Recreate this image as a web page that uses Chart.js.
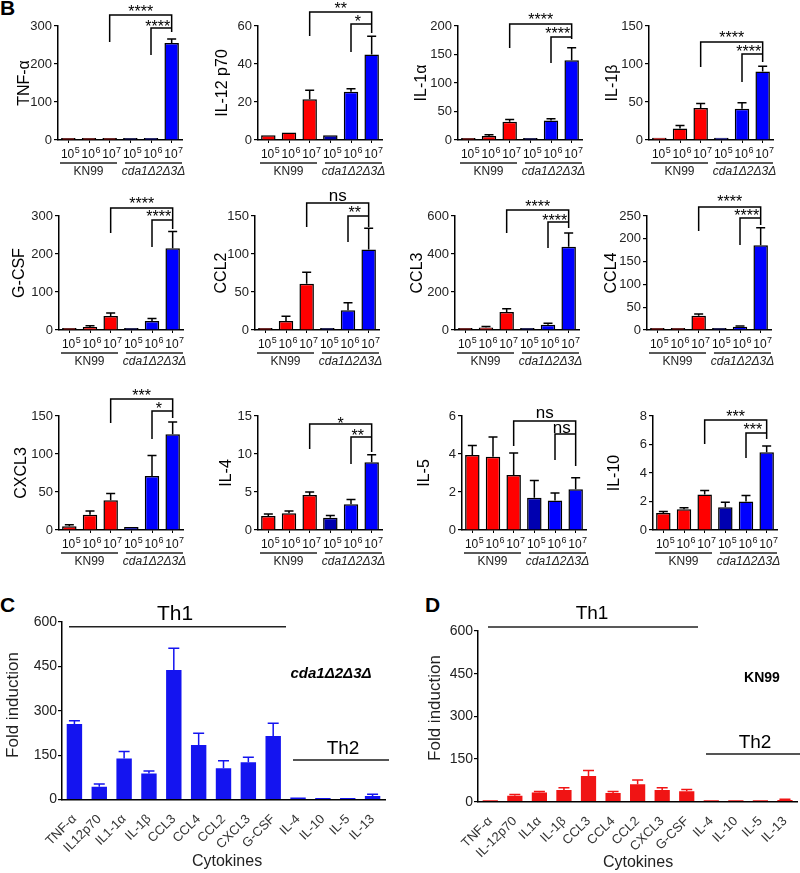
<!DOCTYPE html>
<html><head><meta charset="utf-8">
<script src="https://cdn.jsdelivr.net/npm/chart.js@4.4.0/dist/chart.umd.min.js"></script>
<style>
html,body{margin:0;padding:0;background:#fff;width:800px;height:873px;overflow:hidden;position:relative;font-family:'Liberation Sans',Arial,sans-serif}
canvas{position:absolute}
.lbl{position:absolute;font-weight:bold;font-size:21px;line-height:21px;color:#000}
</style></head><body>
<div class="lbl" style="left:0;top:-3px">B</div>
<div class="lbl" style="left:0;top:594px">C</div>
<div class="lbl" style="left:425px;top:594px">D</div>
<script>
Chart.defaults.font.family = "'Liberation Sans', Arial, sans-serif";
Chart.defaults.color = '#222';
Chart.defaults.animation = false;

// ---------- data ----------
const doseLabels = ['10⁵','10⁶','10⁷','10⁵','10⁶','10⁷'];
const strainLabels = ['KN99','cda1Δ2Δ3Δ'];

const tnfMean  = [1, 1, 3, 1, 2, 255];
const tnfSem   = [0.5, 0.5, 1, 0.5, 0.5, 11];
const il12Mean = [2.5, 4.0, 21.5, 2.5, 25.4, 45];
const il12Sem  = [0.3, 0.3, 4.7, 0.4, 1.6, 9.6];
const il1aMean = [1.5, 7, 32, 3, 34, 140];
const il1aSem  = [0.5, 2, 4, 0.5, 3.5, 22];
const il1bMean = [3, 15, 42, 3, 41, 90];
const il1bSem  = [1, 4, 6, 1, 8, 7];
const gcsfMean = [2, 8, 37, 2, 24, 215];
const gcsfSem  = [0.5, 3, 8, 0.5, 6, 44];
const ccl2Mean = [1.5, 12, 61, 1, 26, 106];
const ccl2Sem  = [0.5, 6, 15, 0.3, 10, 28];
const ccl3Mean = [1, 13, 95, 3, 28, 438];
const ccl3Sem  = [0.5, 5, 17, 1, 8, 72];
const ccl4Mean = [1, 2, 31, 1, 7, 186];
const ccl4Sem  = [0.3, 0.8, 4, 0.3, 2, 38];
const cxcl3Mean = [5, 20, 39, 4, 71, 126];
const cxcl3Sem  = [2, 5, 9, 1, 27, 16];
const il4Mean  = [1.85, 2.2, 4.6, 1.6, 3.4, 8.9];
const il4Sem   = [0.25, 0.3, 0.4, 0.3, 0.6, 1.0];
const il5Mean  = [3.95, 3.85, 2.9, 1.7, 1.55, 2.15];
const il5Sem   = [0.5, 1.05, 1.15, 0.9, 0.4, 0.6];
const il10Mean = [1.2, 1.45, 2.5, 1.6, 2.0, 5.45];
const il10Sem  = [0.1, 0.12, 0.28, 0.35, 0.42, 0.45];

const foldCatsC = ['TNF-α','IL12p70','IL1-1α','IL-1β','CCL3','CCL4','CCL2','CXCL3','G-CSF','IL-4','IL-10','IL-5','IL-13'];
const foldMeanC = [255, 43, 139, 88, 438, 184, 106, 126, 215, 7, 4, 2, 12];
const foldSemC  = [11, 9, 23, 8, 73, 40, 25, 17, 43, 2, 1.5, 1, 5.5];
const foldCatsD = ['TNF-α','IL-12p70','IL1α','IL-1β','CCL3','CCL4','CCL2','CXCL3','G-CSF','IL-4','IL-10','IL-5','IL-13'];
const foldMeanD = [4, 21, 32, 41, 90, 31, 61, 41, 37, 3, 1, 2, 6];
const foldSemD  = [1, 4, 4, 8, 20, 5, 15, 8, 6, 1, 0.5, 0.8, 3];

// ---------- small panel layout ----------
const rowTop = [26, 216, 416];
const colLeft = [0, 200, 400, 600];
const SW = 200, SH = 222, CT = 50, CH = 114, CW = 124;
const barColors = ['#ff0000','#ff0000','#ff0000','#0000b0','#0000ff','#0000ff'];
const FONT = "'Liberation Sans', Arial, sans-serif";

const panels = [
 {name:'TNF-α', mean:tnfMean, sem:tnfSem, max:300, step:100, col:0, row:0, axisX:58, titleX:25, sig:['****','****'], br:{o:-11,ol:16,r:6,i:2,il:29,to:-18,ti:-3}},
 {name:'IL-12 p70', mean:il12Mean, sem:il12Sem, max:60, step:20, col:1, row:0, axisX:258, titleX:223, sig:['**','*'], br:{o:-14,ol:10,r:7,i:-2,il:26,to:-21,ti:-8}},
 {name:'IL-1α', mean:il1aMean, sem:il1aSem, max:200, step:50, col:2, row:0, axisX:458, titleX:422, sig:['****','****'], br:{o:-2,ol:22,r:13,i:11,il:37,to:-10,ti:4}},
 {name:'IL-1β', mean:il1bMean, sem:il1bSem, max:150, step:50, col:3, row:0, axisX:649, titleX:613, sig:['****','****'], br:{o:16,ol:41,r:36,i:28,il:56,to:8,ti:22}},
 {name:'G-CSF', mean:gcsfMean, sem:gcsfSem, max:300, step:100, col:0, row:1, axisX:59, titleX:20, sig:['****','****'], br:{o:-8,ol:17,r:13,i:4,il:31,to:-16,ti:-3}},
 {name:'CCL2', mean:ccl2Mean, sem:ccl2Sem, max:150, step:50, col:1, row:1, axisX:255, titleX:222, sig:['ns','**'], br:{o:-13,ol:11,r:11,i:0,il:26,to:-20,ti:-7}},
 {name:'CCL3', mean:ccl3Mean, sem:ccl3Sem, max:600, step:200, col:2, row:1, axisX:455, titleX:418, sig:['****','****'], br:{o:-6,ol:17,r:12,i:6,il:32,to:-13,ti:1}},
 {name:'CCL4', mean:ccl4Mean, sem:ccl4Sem, max:250, step:50, col:3, row:1, axisX:647, titleX:612, sig:['****','****'], br:{o:-9,ol:15,r:9,i:2,il:29,to:-18,ti:-4}},
 {name:'CXCL3', mean:cxcl3Mean, sem:cxcl3Sem, max:150, step:50, col:0, row:2, axisX:59, titleX:22, sig:['***','*'], br:{o:-17,ol:7,r:2,i:-5,il:23,to:-24,ti:-11}},
 {name:'IL-4', mean:il4Mean, sem:il4Sem, max:15, step:5, col:1, row:2, axisX:258, titleX:227, sig:['*','**'], br:{o:8,ol:33,r:36,i:21,il:48,to:4,ti:16}},
 {name:'IL-5', mean:il5Mean, sem:il5Sem, max:6, step:2, col:2, row:2, axisX:462, titleX:425, sig:['ns','ns'], br:{o:5,ol:30,r:50,i:18,il:44,to:-3,ti:12}},
 {name:'IL-10', mean:il10Mean, sem:il10Sem, max:8, step:2, col:3, row:2, axisX:653, titleX:615, sig:['***','***'], br:{o:4,ol:28,r:23,i:17,il:42,to:-3,ti:10}}
];

const SUP = '⁰¹²³⁴⁵⁶⁷⁸⁹';
function splitPow(lbl) {
  let base = '', exp = '';
  for (const ch of lbl) {
    const k = SUP.indexOf(ch);
    if (k >= 0) exp += String(k); else base += ch;
  }
  return [base, exp];
}

function drawSig(ctx, text, x, yc) {
  ctx.textAlign = 'center';
  ctx.textBaseline = 'alphabetic';
  if (text === 'ns') {
    ctx.font = '17px ' + FONT;
    ctx.fillText(text, x, yc + 4.5);
  } else {
    ctx.font = '16px ' + FONT;
    ctx.fillText(text, x, yc + 9);
  }
}

function smallDeco(p, cl) {
  return {
    id: 'smallDeco',
    afterDraw(chart) {
      const ctx = chart.ctx, ca = chart.chartArea, ys = chart.scales.y;
      const xs = chart.getDatasetMeta(0).data.map(b => b.x);
      ctx.save();
      ctx.strokeStyle = '#000'; ctx.fillStyle = '#000'; ctx.lineWidth = 1.5;
      // error bars (upper)
      p.mean.forEach((v, i) => {
        const y0 = ys.getPixelForValue(v), y1 = ys.getPixelForValue(v + p.sem[i]);
        if (y0 - y1 < 0.8) return;
        ctx.beginPath();
        ctx.moveTo(xs[i], y0); ctx.lineTo(xs[i], y1);
        ctx.moveTo(xs[i] - 4.5, y1); ctx.lineTo(xs[i] + 4.5, y1);
        ctx.stroke();
      });
      // brackets
      const b = p.br, T = ca.top;
      ctx.beginPath();
      ctx.moveTo(xs[2], T + b.ol); ctx.lineTo(xs[2], T + b.o); ctx.lineTo(xs[5], T + b.o); ctx.lineTo(xs[5], T + b.r);
      ctx.moveTo(xs[4], T + b.il); ctx.lineTo(xs[4], T + b.i); ctx.lineTo(xs[5], T + b.i);
      ctx.stroke();
      drawSig(ctx, p.sig[0], (xs[2] + xs[5]) / 2, T + b.to);
      drawSig(ctx, p.sig[1], xs[4] + 0.33 * (xs[5] - xs[4]), T + b.ti);
      // dose tick labels with superscript exponent
      ctx.fillStyle = '#111';
      ctx.textBaseline = 'alphabetic'; ctx.textAlign = 'left';
      doseLabels.forEach((lbl, i) => {
        const [base, exp] = splitPow(lbl);
        ctx.font = '12px ' + FONT;
        const wb = ctx.measureText(base).width;
        ctx.font = '9px ' + FONT;
        const we = ctx.measureText(exp).width;
        const x0 = xs[i] + 2 - (wb + we + 0.5) / 2;
        ctx.font = '12px ' + FONT;
        ctx.fillText(base, x0, ca.bottom + 18);
        ctx.font = '9px ' + FONT;
        ctx.fillText(exp, x0 + wb + 0.5, ca.bottom + 12.5);
      });
      // y title
      ctx.fillStyle = '#000';
      ctx.save();
      ctx.translate(p.titleX - cl, (ca.top + ca.bottom) / 2);
      ctx.rotate(-Math.PI / 2);
      ctx.font = '16px ' + FONT;
      ctx.textAlign = 'center'; ctx.textBaseline = 'middle';
      ctx.fillText(p.name, 0, 0);
      ctx.restore();
      // strain groups
      const w = ca.right - ca.left;
      const groups = [[0.016, 0.476], [0.54, 1.0]];
      ctx.strokeStyle = '#222'; ctx.lineWidth = 1.3;
      groups.forEach((g, k) => {
        const x1 = ca.left + g[0] * w, x2 = ca.left + g[1] * w;
        ctx.beginPath(); ctx.moveTo(x1, ca.bottom + 23); ctx.lineTo(x2, ca.bottom + 23); ctx.stroke();
        ctx.font = (k === 1 ? 'italic ' : '') + '12px ' + FONT;
        ctx.fillStyle = '#222';
        ctx.textAlign = 'center'; ctx.textBaseline = 'middle';
        ctx.fillText(strainLabels[k], (x1 + x2) / 2, ca.bottom + 31.5);
      });
      ctx.restore();
    }
  };
}

function makeSmall(p) {
  const cv = document.createElement('canvas');
  cv.width = SW; cv.height = SH;
  const cl = colLeft[p.col];
  cv.style.left = cl + 'px';
  cv.style.top = (rowTop[p.row] - CT) + 'px';
  document.body.appendChild(cv);
  const ax = p.axisX - cl;
  new Chart(cv, {
    type: 'bar',
    data: { labels: doseLabels, datasets: [{ data: p.mean, backgroundColor: barColors, borderColor: '#000', borderWidth: 1.5, barPercentage: 0.7, categoryPercentage: 1, minBarLength: 2 }] },
    options: {
      responsive: false, animation: false,
      layout: { padding: { top: CT, right: SW - ax - CW, left: 0, bottom: 0 } },
      plugins: { legend: { display: false }, tooltip: { enabled: false } },
      scales: {
        x: {
          grid: { display: true, drawOnChartArea: false, offset: false, tickLength: 3, color: '#000', lineWidth: 1 },
          border: { color: '#000', width: 1.5 },
          ticks: { display: false, maxRotation: 0, minRotation: 0, autoSkip: false },
          afterFit: s => { s.height = SH - CT - CH; }
        },
        y: {
          min: 0, max: p.max,
          ticks: { stepSize: p.step, font: { size: 13 }, color: '#222', padding: 2 },
          grid: { display: true, drawOnChartArea: false, tickLength: 4, color: '#000', lineWidth: 1.2 },
          border: { color: '#000', width: 1.5 },
          afterFit: s => { s.width = ax; }
        }
      }
    },
    plugins: [smallDeco(p, cl)]
  });
}
panels.forEach(makeSmall);

// ---------- fold induction panels ----------
const FW = 400, FH = 313, FTOP = 560;
const foldPanels = [
  {cats: foldCatsC, mean: foldMeanC, sem: foldSemC, color: '#1414f0', left: 0, ca: {l: 62, r: 385, t: 62, b: 239.5},
   strain: 'cda1Δ2Δ3Δ', strainFont: 'italic bold 15px ' + FONT, strainPos: [331, 114],
   th1: [175, 54, 21], th1Line: [66.7, 69, 286], th2: [343, 189, 19], th2Line: [200, 293, 389], yTitle: [13, 145], xTitle: [227, 302]},
  {cats: foldCatsD, mean: foldMeanD, sem: foldSemD, color: '#f01414', left: 400, ca: {l: 78, r: 400, t: 71, b: 241.7},
   strain: 'KN99', strainFont: 'bold 14px ' + FONT, strainPos: [362, 118],
   th1: [192, 54, 19], th1Line: [67, 88, 298], th2: [355, 183, 19], th2Line: [194, 306, 400], yTitle: [35, 148], xTitle: [238, 303]}
];

function foldDeco(f) {
  return {
    id: 'foldDeco',
    afterDraw(chart) {
      const ctx = chart.ctx, ys = chart.scales.y;
      const xs = chart.getDatasetMeta(0).data.map(b => b.x);
      ctx.save();
      ctx.strokeStyle = f.color; ctx.lineWidth = 1.5;
      f.mean.forEach((v, i) => {
        const y0 = ys.getPixelForValue(v), y1 = ys.getPixelForValue(v + f.sem[i]);
        if (y0 - y1 < 0.8) return;
        ctx.beginPath();
        ctx.moveTo(xs[i], y0); ctx.lineTo(xs[i], y1);
        ctx.moveTo(xs[i] - 5.5, y1); ctx.lineTo(xs[i] + 5.5, y1);
        ctx.stroke();
      });
      ctx.fillStyle = '#000';
      ctx.textAlign = 'center'; ctx.textBaseline = 'middle';
      ctx.font = f.th1[2] + 'px ' + FONT;
      ctx.fillText('Th1', f.th1[0], f.th1[1]);
      ctx.font = f.th2[2] + 'px ' + FONT;
      ctx.fillText('Th2', f.th2[0], f.th2[1]);
      ctx.strokeStyle = '#222'; ctx.lineWidth = 1.5;
      ctx.beginPath(); ctx.moveTo(f.th1Line[1], f.th1Line[0]); ctx.lineTo(f.th1Line[2], f.th1Line[0]); ctx.stroke();
      ctx.strokeStyle = '#555'; ctx.lineWidth = 2;
      ctx.beginPath(); ctx.moveTo(f.th2Line[1], f.th2Line[0]); ctx.lineTo(f.th2Line[2], f.th2Line[0]); ctx.stroke();
      ctx.font = f.strainFont;
      ctx.fillText(f.strain, f.strainPos[0], f.strainPos[1]);
      ctx.font = '16px ' + FONT;
      ctx.fillStyle = '#222';
      ctx.fillText('Cytokines', f.xTitle[0], f.xTitle[1]);
      ctx.save();
      ctx.translate(f.yTitle[0], f.yTitle[1]);
      ctx.rotate(-Math.PI / 2);
      ctx.font = '17px ' + FONT;
      ctx.fillText('Fold induction', 0, 0);
      ctx.restore();
      ctx.restore();
    }
  };
}

function makeFold(f) {
  const cv = document.createElement('canvas');
  cv.width = FW; cv.height = FH;
  cv.style.left = f.left + 'px';
  cv.style.top = FTOP + 'px';
  document.body.appendChild(cv);
  new Chart(cv, {
    type: 'bar',
    data: { labels: f.cats, datasets: [{ data: f.mean, backgroundColor: f.color, borderWidth: 0, barPercentage: 0.62, categoryPercentage: 1, minBarLength: 1.5 }] },
    options: {
      responsive: false, animation: false,
      layout: { padding: { top: f.ca.t, right: FW - f.ca.r, left: 0, bottom: 0 } },
      plugins: { legend: { display: false }, tooltip: { enabled: false } },
      scales: {
        x: {
          grid: { display: false },
          border: { color: '#000', width: 1.5 },
          ticks: { font: { size: 13 }, color: '#333', padding: 4, maxRotation: 45, minRotation: 45, autoSkip: false },
          afterFit: s => { s.height = FH - f.ca.b; }
        },
        y: {
          min: 0, max: 600,
          ticks: { stepSize: 150, font: { size: 14 }, color: '#222', padding: 1 },
          grid: { display: true, drawOnChartArea: false, tickLength: 4, color: '#000', lineWidth: 1.2 },
          border: { color: '#000', width: 1.5 },
          afterFit: s => { s.width = f.ca.l; }
        }
      }
    },
    plugins: [foldDeco(f)]
  });
}
foldPanels.forEach(makeFold);
</script>
</body></html>
